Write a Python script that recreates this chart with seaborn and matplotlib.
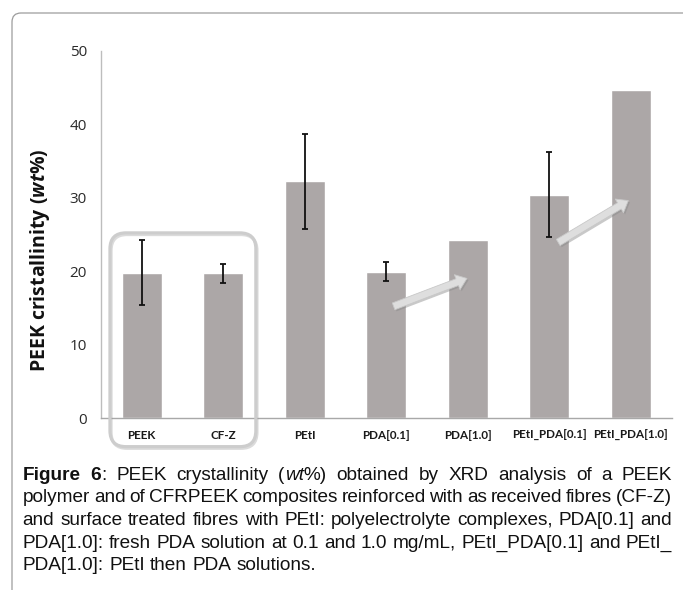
import re
import numpy as np
import pandas as pd
import matplotlib
matplotlib.use("Agg")
import matplotlib.pyplot as plt
import seaborn as sns
from matplotlib.patches import FancyBboxPatch, FancyArrowPatch
from matplotlib.transforms import IdentityTransform
import matplotlib.patheffects as pe

# ---------------- data ----------------
categories = ["PEEK", "CF-Z", "PEtI", "PDA[0.1]", "PDA[1.0]",
              "PEtI_PDA[0.1]", "PEtI_PDA[1.0]"]
crystallinity = [19.8, 19.7, 32.2, 19.9, 24.2, 30.4, 44.7]
errors = [4.4, 1.3, 6.5, 1.3, np.nan, 5.8, np.nan]
yticks = [0, 10, 20, 30, 40, 50]
ylabel = "PEEK cristallinity ($\\mathbfit{wt}$%)"
caption_lines = [
    "**Figure** **6**: PEEK crystallinity (*wt*%) obtained by XRD analysis of a PEEK",
    "polymer and of CFRPEEK composites reinforced with as received fibres (CF-Z)",
    "and surface treated fibres with PEtI: polyelectrolyte complexes, PDA[0.1] and",
    "PDA[1.0]: fresh PDA solution at 0.1 and 1.0 mg/mL, PEtI_PDA[0.1] and PEtI_",
    "PDA[1.0]: PEtI then PDA solutions.",
]

df = pd.DataFrame({"category": categories, "value": crystallinity, "err": errors})

# ---------------- style ----------------
sns.set_style("white")
plt.rcParams["font.family"] = ["Open Sans", "DejaVu Sans"]
plt.rcParams["mathtext.fontset"] = "custom"
plt.rcParams["mathtext.rm"] = "Open Sans:bold"
plt.rcParams["mathtext.it"] = "Open Sans:italic:bold"
plt.rcParams["mathtext.bf"] = "Open Sans:bold"
try:
    plt.rcParams["mathtext.bfit"] = "Open Sans:italic:bold"
except KeyError:
    ylabel = "PEEK cristallinity ($\\it{wt}$%)"

W, H, DPI = 683, 590, 100
fig = plt.figure(figsize=(W / DPI, H / DPI), dpi=DPI)
ax = fig.add_axes([101 / W, 1 - 418 / H, 570.5 / W, 367.3 / H])

bar_color = "#aca7a7"
sns.barplot(data=df, x="category", y="value", color=bar_color, saturation=1,
            width=0.49, errorbar=None, ax=ax, zorder=2)

# error bars
xs = [p.get_x() + p.get_width() / 2 for p in ax.patches]
ax.errorbar(xs, df["value"], yerr=df["err"], fmt="none", ecolor="#111111",
            elinewidth=1.3, capsize=2.2, capthick=1.3, zorder=3)

ax.set_ylim(0, 50)
ax.set_xlim(-0.5, len(categories) - 0.5)
ax.set_yticks(yticks)
ax.set_xlabel("")
ax.set_ylabel(ylabel, fontsize=14, fontweight="bold", color="#111111",
              va="center")
ax.yaxis.set_label_coords(-0.107, 0.43)

for s in ["top", "right"]:
    ax.spines[s].set_visible(False)
ax.spines["left"].set_color("#bdbdbd")
ax.spines["left"].set_linewidth(1.0)
ax.spines["bottom"].set_color("#a8a8a8")
ax.spines["bottom"].set_linewidth(1.0)

ax.tick_params(axis="y", which="major", direction="out", length=6, width=1,
               color="#bdbdbd", pad=4.0, labelsize=11, labelcolor="#2a2a2a")
ax.tick_params(axis="x", which="major", length=0, pad=8.5)
ax.set_xticks(range(len(categories)))
ax.set_xticklabels(categories, fontsize=8.4, fontweight="bold",
                   family=["Lato", "DejaVu Sans"], color="#1a1a1a")
ax.set_xticks(np.arange(-0.5, len(categories), 1.0), minor=True)
ax.tick_params(axis="x", which="minor", direction="out", length=5, width=1,
               color="#b0b0b0")
ax.grid(False)

# arrows
for (x0, y0), (x1, y1) in [((3.09, 15.2), (3.99, 19.0)),
                           ((5.11, 23.9), (5.97, 29.6))]:
    arr = FancyArrowPatch((x0, y0), (x1, y1),
                          arrowstyle="simple,head_length=0.75,head_width=1.15,tail_width=0.52",
                          mutation_scale=10, fc="#dedede", ec="#c8c8c8", lw=0.6,
                          shrinkA=0, shrinkB=0, zorder=4)
    arr.set_path_effects([pe.withSimplePatchShadow(offset=(1.2, -1.2),
                                                   shadow_rgbFace="#888888",
                                                   alpha=0.45)])
    ax.add_patch(arr)

# rounded group box around first two categories
p0 = ax.transData.transform((-0.39, -3.9))
p1 = ax.transData.transform((1.40, 25.2))
box = FancyBboxPatch((p0[0], p0[1]), p1[0] - p0[0], p1[1] - p0[1],
                     boxstyle="round,pad=0,rounding_size=16",
                     transform=IdentityTransform(), fc="none", ec="#cdcdcd",
                     lw=2.3, zorder=5)
box.set_path_effects([pe.SimpleLineShadow(offset=(0.8, -1.2), shadow_color="#999999",
                                          alpha=0.35), pe.Normal()])
fig.add_artist(box)

# outer frame (rounded top-left corner)
frame = FancyBboxPatch((12, -40), 760, (H - 13) + 40,
                       boxstyle="round,pad=0,rounding_size=9",
                       transform=IdentityTransform(), fc="none", ec="#9c9c9c",
                       lw=0.9)
fig.add_artist(frame)

# ---------------- justified caption ----------------
renderer = fig.canvas.get_renderer()
cap_family = ["Liberation Sans", "DejaVu Sans"]


def parse_word(word):
    pieces = []
    for part in re.split(r"(\*\*.+?\*\*|\*.+?\*)", word):
        if not part:
            continue
        if part.startswith("**"):
            pieces.append((part[2:-2], "bold", "normal"))
        elif part.startswith("*"):
            pieces.append((part[1:-1], "normal", "italic"))
        else:
            pieces.append((part, "normal", "normal"))
    return pieces


def piece_width(txt, weight, style, size):
    t = fig.text(0, 0, txt, fontsize=size, fontweight=weight, fontstyle=style,
                 family=cap_family)
    w = t.get_window_extent(renderer).width
    t.remove()
    return w


left_x, right_x = 22.7, 672.0
target = right_x - left_x
# size chosen so that the (unjustified) last line spans as in the reference
ref = 12.0
nat_last = piece_width(caption_lines[-1], "normal", "normal", ref)
size = float(np.clip(ref * 293.0 / nat_last, 11.0, 14.0))
space_w = piece_width("a a", "normal", "normal", size) - piece_width("aa", "normal", "normal", size)

baselines = [480, 502.5, 525, 547.5, 569.5]
for li, line in enumerate(caption_lines):
    words = [parse_word(w) for w in line.split(" ")]
    widths = [[piece_width(t, wt, st, size) for (t, wt, st) in wd] for wd in words]
    total = sum(sum(w) for w in widths)
    last = li == len(caption_lines) - 1
    gap = space_w if (last or len(words) < 2) else (target - total) / (len(words) - 1)
    x = left_x
    yb = 1 - baselines[li] / H
    for wd, ws in zip(words, widths):
        for (t, wt, st), w in zip(wd, ws):
            fig.text(x / W, yb, t, fontsize=size, fontweight=wt, fontstyle=st,
                     family=cap_family, va="baseline", ha="left", color="#111111")
            x += w
        x += gap

fig.savefig("out.png", dpi=DPI, facecolor="white")
